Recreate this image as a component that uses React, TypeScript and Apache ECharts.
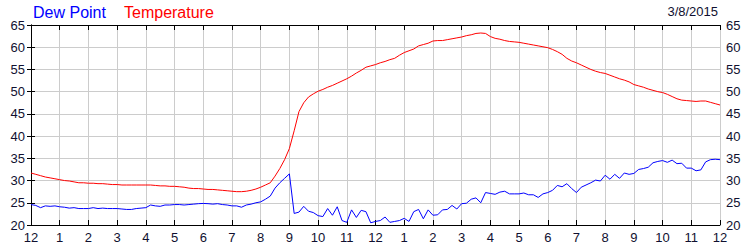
import React, { useEffect, useRef } from "react";
import * as echarts from "echarts";

// Hour tick labels (midnight to midnight)
const hourLabels = ["12","1","2","3","4","5","6","7","8","9","10","11","12","1","2","3","4","5","6","7","8","9","10","11","12"];

// Samples every 10 minutes, starting at midnight (145 samples)
const temperature = [
  31.7, 31.4, 31.1, 30.8, 30.6, 30.4,
  30.2, 30.0, 29.9, 29.7, 29.5, 29.5,
  29.4, 29.4, 29.3, 29.3, 29.2, 29.1,
  29.1, 29.0, 29.0, 29.0, 29.0, 29.0,
  29.0, 29.0, 28.9, 28.8, 28.8, 28.7,
  28.7, 28.6, 28.5, 28.3, 28.2, 28.2,
  28.1, 28.0, 28.0, 27.9, 27.8, 27.7,
  27.6, 27.5, 27.5, 27.6, 27.8, 28.1,
  28.5, 29.0, 29.5, 31.0, 32.7, 34.7,
  37.2, 41.2, 45.5, 47.5, 48.8, 49.5,
  50.1, 50.5, 51.0, 51.4, 51.9, 52.4,
  52.9, 53.5, 54.2, 54.8, 55.5, 55.8,
  56.1, 56.5, 56.8, 57.2, 57.5, 58.2,
  58.8, 59.2, 59.6, 60.3, 60.6, 60.9,
  61.4, 61.5, 61.5, 61.7, 61.9, 62.1,
  62.3, 62.6, 62.8, 63.1, 63.2, 63.1,
  62.4, 62.0, 61.8, 61.5, 61.3, 61.2,
  61.1, 60.9, 60.7, 60.5, 60.3, 60.1,
  59.9, 59.5, 59.0, 58.4, 57.5, 56.9,
  56.5, 56.0, 55.5, 55.0, 54.6, 54.3,
  54.1, 53.7, 53.3, 52.9, 52.6, 52.2,
  51.6, 51.3, 51.0, 50.6, 50.3, 50.0,
  49.8, 49.4, 48.9, 48.4, 48.1, 48.0,
  47.9, 47.8, 47.9, 47.9, 47.6, 47.3,
  47.0,
];

const dewPoint = [
  24.6, 24.4, 23.9, 24.3, 24.2, 24.3,
  24.1, 24.0, 23.8, 23.9, 23.7, 23.7,
  23.7, 23.9, 23.7, 23.8, 23.7, 23.7,
  23.7, 23.6, 23.5, 23.5, 23.7, 23.8,
  23.9, 24.5, 24.3, 24.2, 24.5, 24.5,
  24.6, 24.6, 24.5, 24.6, 24.7, 24.8,
  24.85, 24.8, 24.7, 24.8, 24.6, 24.5,
  24.3, 24.3, 24.0, 24.5, 24.7, 25.0,
  25.2, 25.8, 26.5, 28.3, 29.5, 30.5,
  31.5, 22.6, 22.9, 24.2, 23.1, 22.8,
  22.1, 21.9, 23.7, 22.2, 24.1, 21.0,
  20.6, 23.4, 21.7, 23.3, 23.0, 20.5,
  20.8, 21.0, 21.8, 20.6, 20.8, 21.0,
  21.5, 20.8, 23.0, 23.5, 21.4, 23.4,
  22.2, 22.3, 23.4, 23.5, 24.4, 23.6,
  24.8, 24.9, 25.8, 26.1, 25.0, 27.3,
  27.1, 26.9, 27.4, 27.6, 27.0, 27.0,
  27.0, 27.2, 26.8, 26.8, 26.2, 27.0,
  27.3, 27.8, 28.9, 28.6, 29.3, 28.2,
  27.3, 28.5, 29.0, 29.5, 30.1, 29.9,
  31.2, 30.3, 31.4, 30.5, 31.7, 31.4,
  31.6, 32.5, 32.7, 33.0, 34.0, 34.3,
  34.5, 34.1, 34.6, 33.8, 33.9, 32.8,
  32.8, 32.2, 32.4, 34.2, 34.7, 34.8,
  34.7,
];

const dateLabel = "3/8/2015";
const stepHours = 1 / 6;

export default function App() {
  const ref = useRef<HTMLDivElement>(null);

  useEffect(() => {
    if (!ref.current) return;
    const chart = echarts.init(ref.current, null, { renderer: "svg" });
    const toPairs = (arr: number[]) => arr.map((v, i) => [i * stepHours, v]);
    const font = "Liberation Sans, Arial, sans-serif";
    const labelColor = "#101030";
    const baseY = {
      type: "value" as const,
      min: 20,
      max: 65,
      interval: 5,
      axisLine: { show: true, lineStyle: { color: "#000", width: 1 } },
      axisTick: { show: true, length: 4, lineStyle: { color: "#000" } },
      splitLine: { show: true, lineStyle: { color: "#cccccc", width: 1 } },
    };
    chart.setOption({
      animation: false,
      backgroundColor: "#fff",
      grid: { left: 31, right: 30, top: 25, bottom: 25, containLabel: false },
      legend: { show: false },
      graphic: [
        { type: "text", left: 33, top: 4, style: { text: "Dew Point", fill: "#0000ff", font: `16px ${font}` } },
        { type: "text", left: 124, top: 4, style: { text: "Temperature", fill: "#ff0000", font: `16px ${font}` } },
        { type: "text", right: 32, top: 5, style: { text: dateLabel, fill: labelColor, font: `13px ${font}` } },
      ],
      xAxis: [
        {
          type: "value",
          position: "bottom",
          min: 0,
          max: 24,
          interval: 1,
          axisLine: { show: true, onZero: false, lineStyle: { color: "#000" } },
          axisTick: { show: true, inside: true, length: 5, lineStyle: { color: "#000" } },
          axisLabel: {
            color: labelColor,
            fontFamily: font,
            fontSize: 13,
            margin: 6,
            formatter: (v: number) => hourLabels[Math.round(v)] ?? "",
          },
          splitLine: { show: true, lineStyle: { color: "#cccccc", width: 1 } },
        },
        {
          type: "value",
          position: "top",
          min: 0,
          max: 24,
          interval: 1,
          axisLine: { show: true, onZero: false, lineStyle: { color: "#000" } },
          axisTick: { show: true, inside: true, length: 5, lineStyle: { color: "#000" } },
          axisLabel: { show: false },
          splitLine: { show: false },
        },
      ],
      yAxis: [
        {
          ...baseY,
          position: "left",
          axisLabel: { color: labelColor, fontFamily: font, fontSize: 13, margin: 6 },
        },
        {
          ...baseY,
          position: "right",
          splitLine: { show: false },
          axisLabel: { color: labelColor, fontFamily: font, fontSize: 13, margin: 6 },
        },
      ],
      series: [
        {
          name: "Temperature",
          type: "line",
          data: toPairs(temperature),
          showSymbol: false,
          symbol: "none",
          lineStyle: { color: "#ff0000", width: 1 },
          z: 3,
        },
        {
          name: "Dew Point",
          type: "line",
          data: toPairs(dewPoint),
          showSymbol: false,
          symbol: "none",
          lineStyle: { color: "#0000ff", width: 1 },
          z: 4,
        },
      ],
    });
    return () => chart.dispose();
  }, []);

  return (
    <div
      ref={ref}
      style={{ position: "absolute", left: 0, top: 0, width: 750, height: 250 }}
    />
  );
}
